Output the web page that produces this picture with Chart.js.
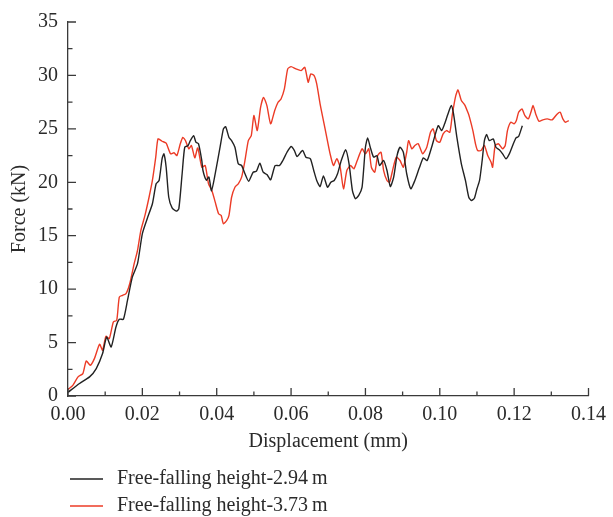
<!DOCTYPE html>
<html>
<head>
<meta charset="utf-8">
<title>Force–displacement curves</title>
<script src="https://cdn.jsdelivr.net/npm/chart.js@4.4.0/dist/chart.umd.min.js"></script>
<style>
  html, body { margin: 0; padding: 0; background: #fff; }
  canvas { display: block; }
</style>
</head>
<body>
<canvas id="force-chart" width="613" height="517"></canvas>
<script>
// Free-falling height 2.94 m
const dispLow = [
  0.0000, 0.0031, 0.0058, 0.0076, 0.0093, 0.0104, 0.0116, 0.0129, 0.0138, 0.0149,
  0.0160, 0.0173, 0.0187, 0.0200, 0.0213, 0.0227, 0.0237, 0.0245, 0.0253, 0.0258,
  0.0264, 0.0271, 0.0280, 0.0291, 0.0298, 0.0307, 0.0314, 0.0323, 0.0329, 0.0338,
  0.0344, 0.0351, 0.0360, 0.0363, 0.0372, 0.0379, 0.0386, 0.0396, 0.0409, 0.0418,
  0.0424, 0.0433, 0.0440, 0.0449, 0.0458, 0.0467, 0.0476, 0.0486, 0.0498, 0.0507,
  0.0516, 0.0525, 0.0535, 0.0545, 0.0557, 0.0569, 0.0578, 0.0589, 0.0600, 0.0609,
  0.0616, 0.0631, 0.0640, 0.0652, 0.0661, 0.0669, 0.0678, 0.0687, 0.0698, 0.0707,
  0.0716, 0.0725, 0.0735, 0.0747, 0.0756, 0.0765, 0.0773, 0.0782, 0.0791, 0.0800,
  0.0806, 0.0813, 0.0822, 0.0831, 0.0838, 0.0849, 0.0858, 0.0867, 0.0876, 0.0885,
  0.0893, 0.0902, 0.0911, 0.0922, 0.0933, 0.0945, 0.0956, 0.0966, 0.0978, 0.0987,
  0.0996, 0.1005, 0.1013, 0.1022, 0.1031, 0.1037, 0.1046, 0.1058, 0.1069, 0.1078,
  0.1085, 0.1093, 0.1100, 0.1107, 0.1114, 0.1120, 0.1126, 0.1133, 0.1144, 0.1151,
  0.1160, 0.1169, 0.1178, 0.1187, 0.1196, 0.1205, 0.1212, 0.1222
];
const forceLow = [
  0.35, 1.17, 1.79, 2.57, 3.97, 5.52, 4.59, 6.46, 7.18, 7.18,
  8.95, 11.13, 12.38, 15.19, 16.59, 17.99, 19.86, 20.17, 22.20, 22.66,
  21.41, 18.60, 17.60, 17.30, 17.50, 20.80, 23.28, 23.44, 23.90, 24.37,
  23.75, 23.60, 22.00, 21.10, 20.20, 20.50, 19.20, 20.80, 23.28, 25.00,
  25.20, 24.20, 23.90, 23.28, 21.73, 21.57, 20.80, 20.10, 20.94, 21.04,
  21.79, 20.94, 20.73, 20.23, 21.57, 21.57, 22.04, 22.81, 23.35, 22.97,
  22.41, 22.97, 22.35, 22.20, 21.10, 20.17, 19.60, 20.60, 19.54, 20.00,
  20.17, 20.80, 22.04, 23.04, 21.73, 19.23, 18.46, 18.77, 19.54, 23.28,
  24.16, 23.28, 22.35, 22.50, 21.57, 22.04, 21.10, 19.60, 20.48, 22.50,
  23.28, 22.81, 20.80, 19.39, 20.17, 21.35, 22.29, 22.04, 23.28, 24.37,
  25.30, 24.84, 25.47, 26.40, 27.18, 26.40, 24.20, 21.73, 20.17, 18.60,
  18.30, 18.50, 19.39, 20.17, 22.04, 23.90, 24.47, 23.90, 24.06, 23.28,
  23.04, 22.66, 22.20, 22.66, 23.44, 24.16, 24.28, 25.30
];

// Free-falling height 3.73 m
const dispHigh = [
  0.0000, 0.0013, 0.0027, 0.0040, 0.0049, 0.0060, 0.0071, 0.0085, 0.0093, 0.0102,
  0.0111, 0.0122, 0.0131, 0.0138, 0.0147, 0.0156, 0.0166, 0.0178, 0.0187, 0.0196,
  0.0207, 0.0218, 0.0227, 0.0236, 0.0242, 0.0253, 0.0264, 0.0276, 0.0285, 0.0293,
  0.0302, 0.0309, 0.0316, 0.0325, 0.0332, 0.0341, 0.0349, 0.0360, 0.0369, 0.0378,
  0.0387, 0.0396, 0.0405, 0.0412, 0.0418, 0.0427, 0.0433, 0.0440, 0.0449, 0.0458,
  0.0467, 0.0476, 0.0485, 0.0493, 0.0500, 0.0509, 0.0518, 0.0526, 0.0535, 0.0545,
  0.0556, 0.0565, 0.0573, 0.0582, 0.0591, 0.0600, 0.0613, 0.0627, 0.0637, 0.0646,
  0.0653, 0.0662, 0.0669, 0.0678, 0.0687, 0.0696, 0.0705, 0.0714, 0.0723, 0.0732,
  0.0741, 0.0750, 0.0760, 0.0769, 0.0778, 0.0791, 0.0800, 0.0809, 0.0816, 0.0825,
  0.0833, 0.0842, 0.0849, 0.0858, 0.0865, 0.0874, 0.0883, 0.0893, 0.0902, 0.0911,
  0.0916, 0.0925, 0.0933, 0.0942, 0.0954, 0.0965, 0.0975, 0.0982, 0.0991, 0.1000,
  0.1009, 0.1018, 0.1027, 0.1034, 0.1043, 0.1049, 0.1058, 0.1067, 0.1076, 0.1080,
  0.1089, 0.1096, 0.1102, 0.1111, 0.1120, 0.1129, 0.1138, 0.1142, 0.1149, 0.1158,
  0.1169, 0.1176, 0.1182, 0.1191, 0.1200, 0.1206, 0.1212, 0.1221, 0.1229, 0.1238,
  0.1245, 0.1251, 0.1258, 0.1267, 0.1277, 0.1289, 0.1302, 0.1316, 0.1324, 0.1331,
  0.1338, 0.1347
];
const forceHigh = [
  0.60, 1.00, 1.79, 2.10, 3.28, 2.88, 3.50, 4.84, 4.28, 5.59,
  5.37, 6.93, 7.08, 9.26, 9.42, 9.58, 10.51, 12.38, 13.63, 15.50,
  16.90, 18.60, 20.17, 22.35, 24.06, 23.84, 23.66, 22.66, 22.76, 22.50,
  23.60, 24.20, 23.90, 23.13, 23.44, 22.29, 23.22, 21.41, 21.57, 19.86,
  19.23, 18.14, 17.06, 16.90, 16.12, 16.43, 16.90, 18.60, 19.54, 19.86,
  20.48, 22.04, 23.90, 24.37, 26.24, 24.84, 27.02, 27.95, 27.18, 25.47,
  26.71, 27.49, 27.80, 28.74, 30.61, 30.82, 30.61, 30.45, 30.76, 29.36,
  30.14, 29.98, 29.20, 27.34, 25.78, 24.20, 22.66, 21.57, 22.20, 21.41,
  19.39, 21.10, 21.57, 21.26, 22.04, 23.13, 22.66, 23.13, 21.41, 20.94,
  22.50, 22.81, 21.10, 20.17, 20.00, 21.26, 22.35, 22.04, 21.41, 22.81,
  23.90, 23.13, 23.44, 23.60, 22.66, 23.28, 24.68, 25.00, 23.90, 23.75,
  24.53, 24.84, 24.68, 26.40, 28.11, 28.64, 27.65, 27.25, 26.50, 26.08,
  24.84, 23.60, 22.97, 22.97, 23.44, 22.50, 21.88, 21.41, 23.44, 23.60,
  23.13, 23.44, 24.84, 25.62, 25.47, 25.78, 26.55, 26.87, 26.24, 25.93,
  26.55, 27.18, 26.40, 25.71, 25.84, 25.93, 25.84, 26.40, 26.55, 25.93,
  25.62, 25.78
];

const seriesLabels = ['Free-falling height-2.94\u2009m', 'Free-falling height-3.73\u2009m'];
const xTickValues = [0, 0.02, 0.04, 0.06, 0.08, 0.10, 0.12, 0.14];
const xTickLabels = ['0.00', '0.02', '0.04', '0.06', '0.08', '0.10', '0.12', '0.14'];
const yTickValues = [0, 5, 10, 15, 20, 25, 30, 35];
const yTickLabels = ['0', '5', '10', '15', '20', '25', '30', '35'];

const axisColor = '#3a3a3a';
const textColor = '#2a2a2a';
const serif = "'Liberation Serif', 'Times New Roman', serif";

function toPoints(xs, ys) {
    return xs.map((x, i) => ({ x: x, y: ys[i] }));
}

// Short tick marks pointing into the plot, with a minor tick between majors
const inwardTicks = {
    id: 'inwardTicks',
    afterDraw(chart) {
        const { ctx } = chart;
        const xs = chart.scales.x;
        const ys = chart.scales.y;
        const x0 = xs.left;
        const y0 = ys.bottom;
        ctx.save();
        ctx.strokeStyle = axisColor;
        ctx.lineWidth = 1.3;
        ctx.beginPath();
        xTickValues.forEach((v, i) => {
            const px = xs.getPixelForValue(v);
            ctx.moveTo(px, y0);
            ctx.lineTo(px, y0 - 8);
            if (i < xTickValues.length - 1) {
                const mx = xs.getPixelForValue((v + xTickValues[i + 1]) / 2);
                ctx.moveTo(mx, y0);
                ctx.lineTo(mx, y0 - 4.5);
            }
        });
        yTickValues.forEach((v, i) => {
            const py = ys.getPixelForValue(v);
            ctx.moveTo(x0, py);
            ctx.lineTo(x0 + 8, py);
            if (i < yTickValues.length - 1) {
                const my = ys.getPixelForValue((v + yTickValues[i + 1]) / 2);
                ctx.moveTo(x0, my);
                ctx.lineTo(x0 + 4.5, my);
            }
        });
        ctx.stroke();
        ctx.restore();
    }
};

// Legend stacked in two rows under the x axis title
const stackedLegend = {
    id: 'stackedLegend',
    afterDraw(chart) {
        const { ctx, chartArea } = chart;
        const left = chartArea.left + 2;
        ctx.save();
        ctx.font = '20px ' + serif;
        ctx.textBaseline = 'middle';
        ctx.textAlign = 'left';
        chart.data.datasets.forEach((ds, i) => {
            const y = chartArea.bottom + 83 + i * 27;
            ctx.strokeStyle = ds.borderColor;
            ctx.lineWidth = 1.4;
            ctx.beginPath();
            ctx.moveTo(left, y);
            ctx.lineTo(left + 33, y);
            ctx.stroke();
            ctx.fillStyle = textColor;
            ctx.fillText(ds.label, left + 47, y);
        });
        ctx.restore();
    }
};

document.addEventListener('DOMContentLoaded', function() {
    const ctx = document.getElementById('force-chart').getContext('2d');

    new Chart(ctx, {
        type: 'line',
        data: {
            datasets: [{
                label: seriesLabels[0],
                data: toPoints(dispLow, forceLow),
                borderColor: '#222222',
                borderWidth: 1.4,
                pointRadius: 0,
                tension: 0.2,
                fill: false
            }, {
                label: seriesLabels[1],
                data: toPoints(dispHigh, forceHigh),
                borderColor: '#ec3b26',
                borderWidth: 1.4,
                pointRadius: 0,
                tension: 0.2,
                fill: false
            }]
        },
        options: {
            responsive: false,
            animation: false,
            layout: {
                padding: { left: 0, top: 21, right: 20, bottom: 61 }
            },
            plugins: {
                legend: { display: false },
                tooltip: { enabled: false }
            },
            scales: {
                x: {
                    type: 'linear',
                    min: 0,
                    max: 0.14,
                    afterBuildTicks: (scale) => {
                        scale.ticks = xTickValues.map(v => ({ value: v }));
                    },
                    afterFit: (scale) => { scale.height = 60; },
                    ticks: {
                        autoSkip: false,
                        maxRotation: 0,
                        padding: 7,
                        color: textColor,
                        font: { family: serif, size: 20 },
                        callback: (v, i) => xTickLabels[i]
                    },
                    grid: { drawOnChartArea: false, drawTicks: false },
                    border: { display: true, color: axisColor, width: 1.3 },
                    title: {
                        display: true,
                        text: 'Displacement (mm)',
                        color: textColor,
                        font: { family: serif, size: 20 },
                        padding: { top: 0, bottom: 2 }
                    }
                },
                y: {
                    type: 'linear',
                    min: 0,
                    max: 35,
                    afterBuildTicks: (scale) => {
                        scale.ticks = yTickValues.map(v => ({ value: v }));
                    },
                    afterFit: (scale) => { scale.width = 68; },
                    ticks: {
                        autoSkip: false,
                        padding: 10,
                        color: textColor,
                        font: { family: serif, size: 20 },
                        callback: (v, i) => yTickLabels[i]
                    },
                    grid: { drawOnChartArea: false, drawTicks: false },
                    border: { display: true, color: axisColor, width: 1.3 },
                    title: {
                        display: true,
                        text: 'Force (kN)',
                        color: textColor,
                        font: { family: serif, size: 20 },
                        padding: { top: 8, bottom: 0 }
                    }
                }
            }
        },
        plugins: [inwardTicks, stackedLegend]
    });
});
</script>
</body>
</html>
